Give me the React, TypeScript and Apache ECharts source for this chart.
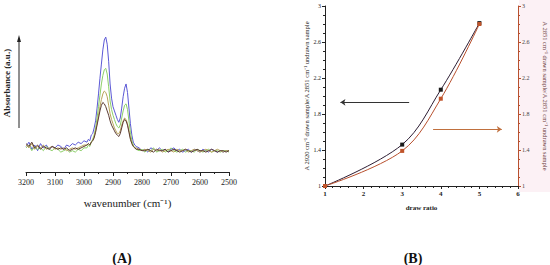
import React, { useEffect, useRef } from "react";
import * as echarts from "echarts";

// ---------- Panel A: FTIR spectra ----------
const wavenumbers = [
  3200, 3190, 3180, 3170, 3160, 3150, 3140, 3130, 3120, 3110, 3100, 3090, 3080, 3070, 3060, 3050, 3040, 3030, 3020, 3010, 3000,
  2990, 2985, 2980, 2975, 2970, 2965, 2960, 2955, 2950, 2945, 2940, 2935, 2930, 2925, 2920, 2915, 2910, 2905, 2900, 2895,
  2890, 2885, 2880, 2875, 2870, 2865, 2860, 2855, 2850, 2845, 2840, 2835, 2830, 2825, 2820,
  2810, 2800, 2790, 2780, 2770, 2760, 2750, 2740, 2730, 2720, 2710, 2700, 2690, 2680, 2670, 2660, 2650, 2640, 2630, 2620,
  2610, 2600, 2590, 2580, 2570, 2560, 2550, 2540, 2530, 2520, 2510, 2500,
];

const blueAbs = [
  0.18, 0.21, 0.16, 0.19, 0.15, 0.2, 0.17, 0.19, 0.16, 0.18, 0.17, 0.19, 0.18, 0.16, 0.19, 0.18, 0.2, 0.19, 0.21, 0.2, 0.22,
  0.21, 0.23, 0.22, 0.26, 0.27, 0.31, 0.36, 0.45, 0.55, 0.66, 0.76, 0.86, 0.93, 0.95, 0.9, 0.78, 0.62, 0.52, 0.46, 0.43,
  0.4, 0.37, 0.35, 0.38, 0.45, 0.53, 0.59, 0.62, 0.56, 0.45, 0.34, 0.26, 0.21, 0.19, 0.18,
  0.17, 0.15, 0.16, 0.14, 0.17, 0.16, 0.15, 0.17, 0.15, 0.16, 0.14, 0.16, 0.17, 0.15, 0.16, 0.14, 0.15, 0.16, 0.14, 0.16,
  0.15, 0.14, 0.16, 0.15, 0.14, 0.16, 0.15, 0.14, 0.15, 0.14, 0.15, 0.15,
];

const greenAbs = [
  0.17, 0.19, 0.15, 0.18, 0.16, 0.17, 0.15, 0.18, 0.16, 0.15, 0.17, 0.16, 0.14, 0.15, 0.16, 0.14, 0.15, 0.14, 0.16, 0.15, 0.17,
  0.17, 0.19, 0.18, 0.21, 0.23, 0.26, 0.31, 0.38, 0.46, 0.54, 0.62, 0.68, 0.72, 0.73, 0.69, 0.6, 0.5, 0.44, 0.4, 0.37,
  0.34, 0.32, 0.31, 0.33, 0.38, 0.43, 0.47, 0.48, 0.44, 0.36, 0.28, 0.22, 0.19, 0.17, 0.16,
  0.15, 0.16, 0.14, 0.16, 0.15, 0.17, 0.14, 0.15, 0.16, 0.14, 0.15, 0.17, 0.15, 0.14, 0.15, 0.16, 0.14, 0.15, 0.15, 0.14,
  0.16, 0.15, 0.14, 0.15, 0.16, 0.14, 0.15, 0.15, 0.14, 0.15, 0.15, 0.14,
];

const oliveAbs = [
  0.19, 0.17, 0.2, 0.16, 0.18, 0.17, 0.19, 0.16, 0.17, 0.18, 0.16, 0.17, 0.16, 0.17, 0.15, 0.16, 0.17, 0.16, 0.17, 0.18, 0.19,
  0.19, 0.2, 0.19, 0.21, 0.22, 0.25, 0.29, 0.34, 0.4, 0.46, 0.51, 0.55, 0.57, 0.56, 0.53, 0.47, 0.41, 0.37, 0.34, 0.31,
  0.29, 0.27, 0.27, 0.29, 0.33, 0.36, 0.38, 0.37, 0.34, 0.29, 0.24, 0.2, 0.18, 0.17, 0.17,
  0.16, 0.15, 0.16, 0.15, 0.14, 0.16, 0.15, 0.16, 0.14, 0.15, 0.16, 0.15, 0.14, 0.16, 0.15, 0.15, 0.16, 0.14, 0.15, 0.16,
  0.15, 0.14, 0.15, 0.16, 0.15, 0.14, 0.15, 0.16, 0.15, 0.14, 0.15, 0.15,
];

const brownAbs = [
  0.2, 0.18, 0.21, 0.17, 0.19, 0.16, 0.18, 0.17, 0.16, 0.18, 0.17, 0.16, 0.17, 0.16, 0.17, 0.15, 0.16, 0.17, 0.16, 0.17, 0.18,
  0.19, 0.2, 0.19, 0.21, 0.22, 0.24, 0.28, 0.33, 0.38, 0.43, 0.47, 0.49, 0.48, 0.46, 0.43, 0.4, 0.36, 0.33, 0.31, 0.29,
  0.27, 0.26, 0.25, 0.27, 0.31, 0.35, 0.37, 0.36, 0.33, 0.28, 0.23, 0.2, 0.18, 0.17, 0.16,
  0.16, 0.15, 0.15, 0.16, 0.15, 0.14, 0.16, 0.15, 0.15, 0.16, 0.14, 0.15, 0.16, 0.15, 0.14, 0.15, 0.16, 0.15, 0.14, 0.15,
  0.16, 0.15, 0.15, 0.14, 0.15, 0.16, 0.15, 0.14, 0.15, 0.15, 0.14, 0.15,
];

// ---------- Panel B: ratio vs draw ratio ----------
const drawRatios = [1, 3, 4, 5];
const ratio2920 = [1, 1.46, 2.07, 2.81];
const ratio2851 = [1, 1.39, 1.97, 2.8];
const leftArrow = { from: [3.18, 1.93], to: [1.4, 1.93] };
const rightArrow = { from: [3.8, 1.63], to: [5.58, 1.63] };

const SERIF = "Liberation Serif, Times New Roman, serif";
const RED = "#b8502e";

export default function App() {
  const ref = useRef<HTMLDivElement>(null);

  useEffect(() => {
    if (!ref.current) return;
    const chart = echarts.init(ref.current, undefined, { renderer: "svg" });
    const pair = (vals: number[]) => wavenumbers.map((w, i) => [w, vals[i]]);
    const spectrum = (name: string, vals: number[], color: string) => ({
      name,
      type: "line",
      xAxisIndex: 0,
      yAxisIndex: 0,
      data: pair(vals),
      showSymbol: false,
      lineStyle: { color, width: 1 },
      itemStyle: { color },
    });

    chart.setOption({
      animation: false,
      backgroundColor: "#ffffff",
      grid: [
        { left: 26, right: 321, top: 30, bottom: 93 },
        { left: 325, right: 25, top: 6, bottom: 79 },
      ],
      xAxis: [
        {
          gridIndex: 0,
          type: "value",
          inverse: true,
          min: 2500,
          max: 3200,
          interval: 100,
          axisLine: { show: true, onZero: false, lineStyle: { color: "#222", width: 1 } },
          axisTick: { show: true, length: 4, lineStyle: { color: "#222" } },
          minorTick: { show: true, splitNumber: 2, length: 2, lineStyle: { color: "#222" } },
          splitLine: { show: false },
          axisLabel: {
            fontFamily: SERIF,
            fontSize: 8,
            color: "#222",
            margin: 6,
            formatter: (v: number) => String(v),
          },
          name: "wavenumber (cm\u207B\u00B9)",
          nameLocation: "middle",
          nameGap: 25,
          nameTextStyle: { fontFamily: SERIF, fontSize: 11, color: "#222" },
        },
        {
          gridIndex: 1,
          type: "value",
          min: 1,
          max: 6,
          interval: 1,
          axisLine: { show: true, onZero: false, lineStyle: { color: "#222", width: 1 } },
          axisTick: { show: true, length: 3, lineStyle: { color: "#222" } },
          minorTick: { show: true, splitNumber: 5, length: 2, lineStyle: { color: "#222" } },
          splitLine: { show: false },
          axisLabel: { fontFamily: SERIF, fontSize: 7, fontWeight: "bold", color: "#222", margin: 4 },
          name: "draw ratio",
          nameLocation: "middle",
          nameGap: 18,
          nameTextStyle: { fontFamily: SERIF, fontSize: 7, fontWeight: "bold", color: "#222" },
        },
      ],
      yAxis: [
        { gridIndex: 0, type: "value", min: 0, max: 1, show: false },
        {
          gridIndex: 1,
          type: "value",
          min: 1,
          max: 3,
          interval: 0.4,
          axisLine: { show: true, onZero: false, lineStyle: { color: "#222", width: 1 } },
          axisTick: { show: true, length: 3, lineStyle: { color: "#222" } },
          minorTick: { show: true, splitNumber: 4, length: 2, lineStyle: { color: "#222" } },
          splitLine: { show: false },
          axisLabel: { fontFamily: SERIF, fontSize: 6, color: "#222", margin: 4 },
          name: "A 2920 cm\u207B\u00B9 drawn sample/A 2851 cm\u207B\u00B9 undrawn sample",
          nameLocation: "middle",
          nameGap: 15,
          nameTextStyle: { fontFamily: SERIF, fontSize: 6.5, color: "#222" },
        },
        {
          gridIndex: 1,
          type: "value",
          position: "right",
          min: 1,
          max: 3,
          interval: 0.4,
          axisLine: { show: true, onZero: false, lineStyle: { color: RED, width: 1 } },
          axisTick: { show: true, length: 3, lineStyle: { color: RED } },
          minorTick: { show: true, splitNumber: 4, length: 2, lineStyle: { color: RED } },
          splitLine: { show: false },
          axisLabel: { fontFamily: SERIF, fontSize: 6, color: "#444", margin: 4 },
          name: "A 2851 cm\u207B\u00B9 drawn sample/A 2851 cm\u207B\u00B9 undrawn sample",
          nameLocation: "middle",
          nameGap: 24,
          nameRotate: -90,
          nameTextStyle: { fontFamily: SERIF, fontSize: 6.5, color: "#6a3a3a" },
        },
      ],
      series: [
        spectrum("s1", blueAbs, "#5b58d6"),
        spectrum("s2", greenAbs, "#8ccf68"),
        spectrum("s3", oliveAbs, "#b9a35a"),
        spectrum("s4", brownAbs, "#5c3b33"),
        {
          name: "A2920",
          type: "line",
          xAxisIndex: 1,
          yAxisIndex: 1,
          smooth: 0.35,
          clip: false,
          data: drawRatios.map((x, i) => [x, ratio2920[i]]),
          symbol: "rect",
          symbolSize: 4,
          lineStyle: { color: "#2d1d33", width: 1 },
          itemStyle: { color: "#1a1a1a" },
          markLine: {
            silent: true,
            symbol: ["none", "arrow"],
            symbolSize: 5,
            label: { show: false },
            lineStyle: { color: "#333", width: 1, type: "solid" },
            data: [[{ coord: leftArrow.from }, { coord: leftArrow.to }]],
          },
        },
        {
          name: "A2851",
          type: "line",
          xAxisIndex: 1,
          yAxisIndex: 2,
          smooth: 0.35,
          clip: false,
          data: drawRatios.map((x, i) => [x, ratio2851[i]]),
          symbol: "rect",
          symbolSize: 4,
          lineStyle: { color: RED, width: 1 },
          itemStyle: { color: "#c0542a" },
          markLine: {
            silent: true,
            symbol: ["none", "arrow"],
            symbolSize: 5,
            label: { show: false },
            lineStyle: { color: "#c0703e", width: 1, type: "solid" },
            data: [[{ coord: rightArrow.from }, { coord: rightArrow.to }]],
          },
        },
      ],
      graphic: [
        {
          type: "rect",
          z: -10,
          shape: { x: 519, y: 0, width: 31, height: 192 },
          style: { fill: "#fcf1f5" },
        },
        {
          type: "line",
          shape: { x1: 19, y1: 128, x2: 19, y2: 41 },
          style: { stroke: "#222", lineWidth: 1 },
        },
        {
          type: "polygon",
          shape: { points: [[19, 35], [17, 42], [21, 42]] },
          style: { fill: "#222" },
        },
        {
          type: "text",
          x: 7,
          y: 83,
          rotation: Math.PI / 2,
          style: {
            text: "Absorbance (a.u.)",
            fontFamily: SERIF,
            fontSize: 9,
            fontWeight: "bold",
            fill: "#222",
            textAlign: "center",
            textVerticalAlign: "middle",
          },
        },
        {
          type: "text",
          x: 122,
          y: 258,
          style: {
            text: "(A)",
            fontFamily: SERIF,
            fontSize: 14,
            fontWeight: "bold",
            fill: "#111",
            textAlign: "center",
            textVerticalAlign: "middle",
          },
        },
        {
          type: "text",
          x: 413,
          y: 258,
          style: {
            text: "(B)",
            fontFamily: SERIF,
            fontSize: 14,
            fontWeight: "bold",
            fill: "#111",
            textAlign: "center",
            textVerticalAlign: "middle",
          },
        },
      ],
    });
    return () => chart.dispose();
  }, []);

  return (
    <div
      ref={ref}
      style={{ position: "fixed", left: 0, top: 0, width: 550, height: 265, background: "#fff" }}
    />
  );
}
